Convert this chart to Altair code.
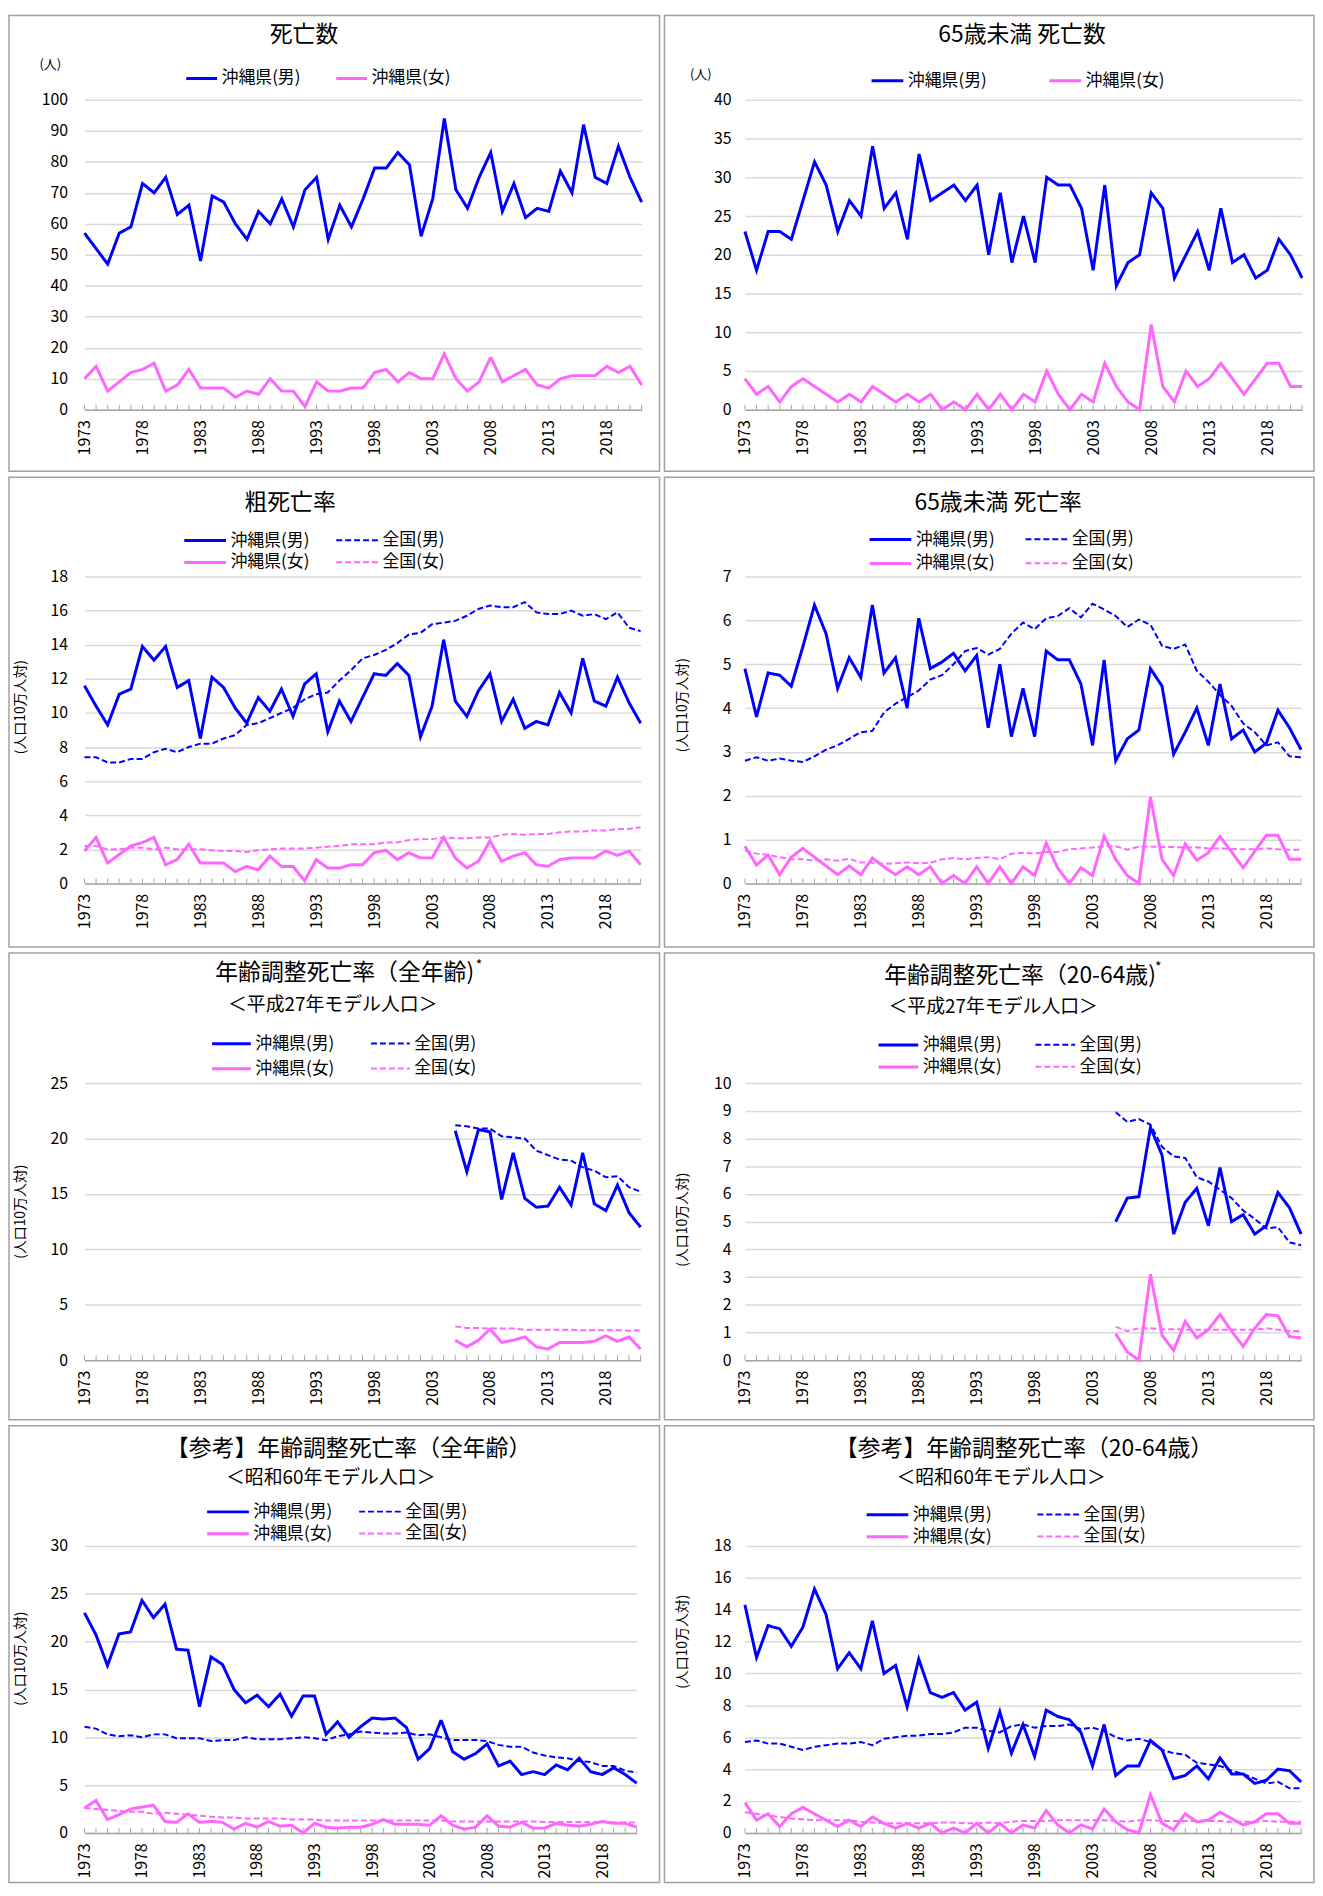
import altair as alt
import pandas as pd

FONT = "Noto Sans CJK JP"
BLUE = "#0000ff"
PINK = "#ff66ff"

years = list(range(1973, 2022))
years_h27 = list(range(2005, 2022))
tick_years = list(range(1973, 2019, 5))

# ---- 死亡数 ----
p1_oki_m = [57, 52, 47, 57, 59, 73, 70, 75, 63, 66,
            48, 69, 67, 60, 55, 64, 60, 68, 59, 71,
            75, 55, 66, 59, 68, 78, 78, 83, 79, 56,
            68, 94, 71, 65, 75, 83, 64, 73, 62, 65,
            64, 77, 70, 92, 75, 73, 85, 75, 67]
p1_oki_f = [10, 14, 6, 9, 12, 13, 15, 6, 8, 13,
            7, 7, 7, 4, 6, 5, 10, 6, 6, 1,
            9, 6, 6, 7, 7, 12, 13, 9, 12, 10,
            10, 18, 10, 6, 9, 17, 9, 11, 13, 8,
            7, 10, 11, 11, 11, 14, 12, 14, 8]

# ---- 65歳未満 死亡数 ----
p2_oki_m = [23, 18, 23, 23, 22, 27, 32, 29, 23, 27,
            25, 34, 26, 28, 22, 33, 27, 28, 29, 27,
            29, 20, 28, 19, 25, 19, 30, 29, 29, 26,
            18, 29, 16, 19, 20, 28, 26, 17, 20, 23,
            18, 26, 19, 20, 17, 18, 22, 20, 17]
p2_oki_f = [4, 2, 3, 1, 3, 4, 3, 2, 1, 2,
            1, 3, 2, 1, 2, 1, 2, 0, 1, 0,
            2, 0, 2, 0, 2, 1, 5, 2, 0, 2,
            1, 6, 3, 1, 0, 11, 3, 1, 5, 3,
            4, 6, 4, 2, 4, 6, 6, 3, 3]

# ---- 粗死亡率 ----
p3_oki_m = [11.6, 10.4, 9.3, 11.1, 11.4, 13.9, 13.1, 13.9, 11.5, 11.9,
            8.5, 12.1, 11.5, 10.3, 9.4, 10.9, 10.1, 11.4, 9.8, 11.7,
            12.3, 8.9, 10.7, 9.5, 10.9, 12.3, 12.2, 12.9, 12.2, 8.6,
            10.4, 14.3, 10.7, 9.8, 11.3, 12.3, 9.5, 10.8, 9.1, 9.5,
            9.3, 11.2, 10.0, 13.2, 10.7, 10.4, 12.1, 10.6, 9.4]
p3_nat_m = [7.4, 7.4, 7.1, 7.1, 7.3, 7.3, 7.7, 7.9, 7.7, 8.0,
            8.2, 8.2, 8.5, 8.7, 9.3, 9.4, 9.7, 10.0, 10.3, 10.8,
            11.1, 11.2, 11.9, 12.5, 13.2, 13.4, 13.7, 14.1, 14.6, 14.7,
            15.2, 15.3, 15.4, 15.7, 16.1, 16.3, 16.2, 16.2, 16.5, 15.9,
            15.8, 15.8, 16.0, 15.7, 15.8, 15.5, 15.9, 15.0, 14.8]
p3_oki_f = [1.9, 2.7, 1.2, 1.7, 2.2, 2.4, 2.7, 1.1, 1.4, 2.3,
            1.2, 1.2, 1.2, 0.7, 1.0, 0.8, 1.6, 1.0, 1.0, 0.15,
            1.4, 0.9, 0.9, 1.1, 1.1, 1.8, 1.95, 1.4, 1.8, 1.5,
            1.5, 2.7, 1.5, 0.9, 1.3, 2.5, 1.3, 1.6, 1.8, 1.1,
            1.0, 1.4, 1.5, 1.5, 1.5, 1.9, 1.65, 1.9, 1.1]
p3_nat_f = [2.2, 2.2, 2.0, 2.0, 2.1, 2.1, 2.0, 2.1, 2.0, 2.0,
            2.0, 1.95, 1.9, 1.9, 1.85, 1.95, 2.0, 2.05, 2.05, 2.05,
            2.1, 2.15, 2.2, 2.3, 2.3, 2.3, 2.4, 2.4, 2.55, 2.6,
            2.6, 2.7, 2.65, 2.65, 2.7, 2.7, 2.85, 2.9, 2.85, 2.9,
            2.9, 3.0, 3.05, 3.05, 3.1, 3.1, 3.2, 3.2, 3.3]

# ---- 65歳未満 死亡率 ----
p4_oki_m = [4.9, 3.8, 4.8, 4.75, 4.5, 5.4, 6.35, 5.7, 4.45, 5.15,
            4.7, 6.35, 4.8, 5.15, 4.0, 6.05, 4.9, 5.05, 5.25, 4.85,
            5.2, 3.55, 5.0, 3.35, 4.45, 3.35, 5.3, 5.1, 5.1, 4.55,
            3.15, 5.1, 2.8, 3.3, 3.5, 4.9, 4.5, 2.95, 3.45, 4.0,
            3.15, 4.55, 3.3, 3.5, 3.0, 3.2, 3.95, 3.55, 3.05]
p4_nat_m = [2.8, 2.88, 2.8, 2.85, 2.8, 2.77, 2.9, 3.05, 3.15, 3.3,
            3.45, 3.48, 3.9, 4.1, 4.25, 4.4, 4.65, 4.75, 5.0, 5.3,
            5.37, 5.22, 5.35, 5.7, 5.95, 5.8, 6.05, 6.1, 6.28, 6.07,
            6.38, 6.25, 6.1, 5.85, 6.02, 5.9, 5.42, 5.35, 5.45, 4.85,
            4.6, 4.3, 4.05, 3.65, 3.45, 3.15, 3.22, 2.9, 2.88]
p4_oki_f = [0.85, 0.42, 0.65, 0.2, 0.6, 0.8, 0.6, 0.4, 0.2, 0.4,
            0.2, 0.58, 0.38, 0.2, 0.38, 0.2, 0.38, 0.0, 0.18, 0.0,
            0.38, 0.0, 0.38, 0.0, 0.38, 0.18, 0.92, 0.35, 0.0, 0.36,
            0.18, 1.08, 0.55, 0.18, 0.0, 1.97, 0.55, 0.18, 0.9, 0.53,
            0.7, 1.07, 0.72, 0.36, 0.73, 1.1, 1.1, 0.55, 0.55]
p4_nat_f = [0.75, 0.68, 0.65, 0.6, 0.55, 0.55, 0.52, 0.55, 0.52, 0.56,
            0.48, 0.47, 0.45, 0.46, 0.48, 0.46, 0.47, 0.55, 0.58, 0.55,
            0.58, 0.6, 0.55, 0.68, 0.7, 0.68, 0.72, 0.72, 0.78, 0.8,
            0.82, 0.85, 0.85, 0.77, 0.84, 0.84, 0.83, 0.83, 0.82, 0.82,
            0.8, 0.8, 0.79, 0.78, 0.78, 0.8, 0.78, 0.77, 0.77]

# ---- 年齢調整死亡率（全年齢）H27 (2005-2021) ----
p5_oki_m = [20.7, 17.0, 20.8, 20.6, 14.5, 18.7, 14.6, 13.8, 13.9, 15.6, 14.0, 18.7, 14.1, 13.5, 15.8, 13.3, 12.0]
p5_nat_m = [21.2, 21.1, 20.9, 20.9, 20.2, 20.1, 20.0, 18.9, 18.5, 18.1, 18.0, 17.4, 17.1, 16.5, 16.6, 15.6, 15.2]
p5_oki_f = [1.8, 1.2, 1.8, 2.8, 1.6, 1.8, 2.1, 1.2, 1.0, 1.6, 1.6, 1.6, 1.7, 2.2, 1.7, 2.1, 1.0]
p5_nat_f = [3.05, 2.9, 2.9, 2.85, 2.85, 2.85, 2.75, 2.75, 2.75, 2.75, 2.75, 2.7, 2.7, 2.7, 2.7, 2.65, 2.7]

# ---- 年齢調整死亡率（20-64歳）H27 (2005-2021) ----
p6_oki_m = [5.0, 5.85, 5.9, 8.4, 7.4, 4.55, 5.7, 6.2, 4.85, 6.95, 5.0, 5.25, 4.55, 4.85, 6.05, 5.5, 4.55]
p6_nat_m = [8.95, 8.6, 8.7, 8.5, 7.7, 7.35, 7.3, 6.6, 6.45, 6.15, 5.85, 5.4, 5.1, 4.75, 4.8, 4.25, 4.15]
p6_oki_f = [0.95, 0.3, 0.0, 3.1, 0.9, 0.35, 1.4, 0.8, 1.1, 1.65, 1.05, 0.5, 1.15, 1.65, 1.6, 0.85, 0.8]
p6_nat_f = [1.2, 1.05, 1.15, 1.15, 1.12, 1.12, 1.1, 1.1, 1.1, 1.1, 1.1, 1.1, 1.1, 1.15, 1.1, 1.05, 1.05]

# ---- 【参考】年齢調整死亡率（全年齢）S60 ----
p7_oki_m = [23.0, 20.7, 17.5, 20.8, 21.0, 24.3, 22.5, 23.9, 19.2, 19.1,
            13.2, 18.4, 17.6, 15.0, 13.6, 14.4, 13.2, 14.5, 12.2, 14.3,
            14.3, 10.3, 11.6, 10.0, 11.1, 12.0, 11.9, 12.0, 11.0, 7.7,
            8.8, 11.8, 8.5, 7.7, 8.3, 9.3, 7.0, 7.5, 6.1, 6.4,
            6.1, 7.1, 6.6, 7.8, 6.4, 6.1, 6.8, 6.1, 5.2]
p7_nat_m = [11.1, 10.9, 10.3, 10.1, 10.2, 10.0, 10.3, 10.3, 9.9, 9.9,
            9.9, 9.6, 9.7, 9.7, 10.0, 9.8, 9.8, 9.8, 9.9, 10.0,
            9.9, 9.7, 10.1, 10.3, 10.6, 10.5, 10.4, 10.4, 10.5, 10.2,
            10.3, 10.0, 9.7, 9.7, 9.7, 9.6, 9.2, 9.0, 9.0, 8.4,
            8.1, 7.9, 7.8, 7.5, 7.4, 7.0, 7.0, 6.5, 6.3]
p7_oki_f = [2.6, 3.4, 1.4, 1.9, 2.5, 2.7, 2.9, 1.2, 1.1, 2.0,
            1.1, 1.2, 1.1, 0.4, 1.0, 0.6, 1.2, 0.7, 0.8, 0.0,
            1.0, 0.6, 0.5, 0.6, 0.6, 0.9, 1.4, 0.9, 0.9, 0.9,
            0.8, 1.8, 0.8, 0.4, 0.6, 1.8, 0.7, 0.6, 1.1, 0.5,
            0.5, 1.0, 0.8, 0.7, 0.9, 1.2, 1.0, 1.0, 0.6]
p7_nat_f = [2.6, 2.5, 2.4, 2.3, 2.2, 2.2, 2.0, 2.1, 2.0, 1.9,
            1.8, 1.7, 1.6, 1.6, 1.5, 1.5, 1.5, 1.5, 1.4, 1.4,
            1.4, 1.3, 1.3, 1.3, 1.3, 1.3, 1.3, 1.3, 1.3, 1.3,
            1.3, 1.3, 1.2, 1.2, 1.2, 1.2, 1.2, 1.2, 1.2, 1.2,
            1.15, 1.15, 1.15, 1.15, 1.15, 1.15, 1.1, 1.1, 1.1]

# ---- 【参考】年齢調整死亡率（20-64歳）S60 ----
p8_oki_m = [14.3, 11.0, 13.0, 12.8, 11.7, 12.9, 15.3, 13.7, 10.3, 11.3,
            10.3, 13.3, 10.0, 10.5, 7.9, 10.9, 8.8, 8.5, 8.8, 7.7,
            8.2, 5.3, 7.6, 5.0, 6.8, 4.8, 7.7, 7.3, 7.1, 6.3,
            4.2, 6.8, 3.6, 4.2, 4.2, 5.8, 5.2, 3.4, 3.6, 4.2,
            3.4, 4.7, 3.7, 3.7, 3.1, 3.3, 4.0, 3.9, 3.2]
p8_nat_m = [5.7, 5.8, 5.6, 5.6, 5.4, 5.2, 5.4, 5.5, 5.6, 5.6,
            5.7, 5.5, 5.9, 6.0, 6.1, 6.1, 6.2, 6.2, 6.3, 6.6,
            6.6, 6.4, 6.3, 6.7, 6.8, 6.6, 6.7, 6.7, 6.8, 6.5,
            6.6, 6.4, 6.0, 5.8, 5.9, 5.7, 5.2, 5.0, 4.9, 4.4,
            4.3, 4.2, 3.9, 3.7, 3.4, 3.1, 3.2, 2.8, 2.8]
p8_oki_f = [1.9, 0.8, 1.2, 0.4, 1.2, 1.6, 1.2, 0.8, 0.4, 0.8,
            0.4, 1.0, 0.6, 0.3, 0.6, 0.3, 0.6, 0.0, 0.3, 0.0,
            0.6, 0.0, 0.6, 0.0, 0.5, 0.3, 1.4, 0.5, 0.0, 0.5,
            0.25, 1.5, 0.7, 0.2, 0.0, 2.4, 0.6, 0.2, 1.2, 0.7,
            0.8, 1.3, 0.9, 0.5, 0.7, 1.2, 1.2, 0.6, 0.6]
p8_nat_f = [1.3, 1.2, 1.1, 1.0, 0.9, 0.85, 0.8, 0.8, 0.8, 0.8,
            0.7, 0.65, 0.6, 0.6, 0.6, 0.6, 0.6, 0.65, 0.65, 0.6,
            0.6, 0.65, 0.6, 0.7, 0.75, 0.75, 0.75, 0.8, 0.8, 0.8,
            0.8, 0.8, 0.75, 0.7, 0.8, 0.8, 0.75, 0.75, 0.75, 0.75,
            0.75, 0.75, 0.7, 0.7, 0.7, 0.75, 0.7, 0.7, 0.7]

S_OM, S_NM, S_OF, S_NF = "沖縄県(男)", "全国(男)", "沖縄県(女)", "全国(女)"
STYLE = {
    S_OM: (BLUE, [1, 0], 3),
    S_NM: (BLUE, [6, 3], 2),
    S_OF: (PINK, [1, 0], 3),
    S_NF: (PINK, [6, 3], 2),
}


def long_df(yrs, series):
    rows = []
    for name, vals in series:
        for y, v in zip(yrs, vals):
            rows.append({"year": y, "series": name, "value": v})
    return pd.DataFrame(rows)


def panel(c):
    px, py, W, H = c["plot"]
    rx1, ry1, rx2, ry2 = c["rect"]
    L = c["symlen"]

    border = alt.Chart(pd.DataFrame({"k": [0]})).mark_rect(
        fillOpacity=0, stroke="#a0a0a0", strokeWidth=1.5
    ).encode(
        x=alt.value(rx1 - px), x2=alt.value(rx2 - px),
        y=alt.value(ry1 - py), y2=alt.value(ry2 - py),
    )

    x_enc = alt.X(
        "year:Q",
        scale=alt.Scale(domain=[1973, 2021], nice=False, zero=False),
        axis=alt.Axis(
            values=tick_years, format="d", labelAngle=270, labelFontSize=16,
            labelFont=FONT, labelColor="black", labelPadding=10, labelFlush=False,
            labelOverlap=False, ticks=False, grid=False, domainColor="#a6a6a6",
            domainWidth=1.5, title=None,
        ),
    )

    ticks = alt.Chart(pd.DataFrame({"year": years})).mark_rule(
        color="#a6a6a6", strokeWidth=1
    ).encode(x=x_enc, y=alt.value(H), y2=alt.value(H - 5))

    tx, ty = c["ytpos"]
    y_enc = alt.Y(
        "value:Q", scale=alt.Scale(domain=[0, c["ymax"]], nice=False, zero=True),
        axis=alt.Axis(
            values=c["yticks"], labelFontSize=16, labelFont=FONT, labelColor="black",
            labelPadding=c["lpad"], ticks=False, domain=False, grid=True,
            gridColor="#d9d9d9", gridWidth=1.5, title=c["ytitle"],
            titleFont=FONT, titleFontSize=c["ytsize"], titleFontWeight="normal",
            titleColor="black", titleAngle=c["ytangle"], titleX=tx - px, titleY=ty - py,
            titleAlign="center", titleBaseline="middle",
        ),
    )

    lx = c["legx"]

    def line_layer(series, center_y):
        dom = [name for name, _ in series]
        leg = alt.Legend(
            orient="none", legendX=lx - px, legendY=center_y - L / 2 - py,
            columns=2, direction="horizontal", title=None,
            labelFontSize=17, labelFont=FONT, labelColor="black", symbolType="stroke",
            symbolSize=L * L, symbolStrokeWidth=3, columnPadding=c["colpad"],
            labelOffset=3, padding=0,
        )
        return alt.Chart(long_df(c["years"], series)).mark_line(strokeCap="butt").encode(
            x=x_enc,
            y=y_enc,
            color=alt.Color("series:N", scale=alt.Scale(domain=dom, range=[STYLE[s][0] for s in dom]), legend=leg),
            strokeDash=alt.StrokeDash("series:N", scale=alt.Scale(domain=dom, range=[STYLE[s][1] for s in dom]), legend=leg),
            strokeWidth=alt.StrokeWidth("series:N", scale=alt.Scale(domain=dom, range=[STYLE[s][2] for s in dom]), legend=None),
        )

    rows_y = c["legy"]
    if len(c["series"]) == 2:
        line_layers = [line_layer(c["series"], rows_y[0])]
    else:
        line_layers = [line_layer(c["series"][:2], rows_y[0]),
                       line_layer(c["series"][2:], rows_y[1])]

    layers = [border, ticks] + line_layers

    cx, cy = c["tc"]
    layers.append(
        alt.Chart(pd.DataFrame({"t": [c["title"]]})).mark_text(
            font=FONT, fontSize=23, color="black", align="center", baseline="middle"
        ).encode(x=alt.value(cx - px), y=alt.value(cy - py), text="t:N")
    )
    if c.get("sub"):
        sx, sy = c["sc"]
        layers.append(
            alt.Chart(pd.DataFrame({"t": [c["sub"]]})).mark_text(
                font=FONT, fontSize=19, color="black", align="center", baseline="middle"
            ).encode(x=alt.value(sx - px), y=alt.value(sy - py), text="t:N")
        )
    if c.get("star"):
        stx, sty = c["star"]
        layers.append(
            alt.Chart(pd.DataFrame({"t": ["*"]})).mark_text(
                font=FONT, fontSize=14, color="black", align="left", baseline="middle"
            ).encode(x=alt.value(stx - px), y=alt.value(sty - py), text="t:N")
        )

    return (
        alt.layer(*layers).properties(width=W, height=H)
        .resolve_scale(color="independent", strokeDash="independent", strokeWidth="independent")
        .resolve_legend(color="independent", strokeDash="independent", strokeWidth="independent")
    )


four = lambda om, nm, of, nf: [(S_OM, om), (S_NM, nm), (S_OF, of), (S_NF, nf)]
UNIT = "(人口10万人対)"

# row-wise common plot tops (panels in one row share their origin)
R1, R2, R3, R4 = 98, 576, 1084, 1548

cfgs = [
    dict(title="死亡数", tc=(305, 33), plot=(84, R1, 561, 312), rect=(8, 13, 663, 472),
         ymax=100, yticks=list(range(0, 101, 10)), ytitle="(人)", ytsize=13, ytangle=0, lpad=17,
         ytpos=(49, 62), legx=185, legy=(75,), symlen=31, colpad=29,
         years=years, series=[(S_OM, p1_oki_m), (S_OF, p1_oki_f)]),
    dict(title="65歳未満  死亡数", tc=(1026, 33), plot=(747, R1, 561, 312), rect=(666, 13, 1320, 472),
         ymax=40, yticks=list(range(0, 41, 5)), ytitle="(人)", ytsize=13, ytangle=0, lpad=14,
         ytpos=(702, 73), legx=873, legy=(77,), symlen=32, colpad=56,
         years=years, series=[(S_OM, p2_oki_m), (S_OF, p2_oki_f)]),
    dict(title="粗死亡率", tc=(291, 502), plot=(84, R2, 560, 309), rect=(8, 476, 663, 949),
         ymax=18, yticks=list(range(0, 19, 2)), ytitle=UNIT, ytsize=14, ytangle=270, lpad=17,
         ytpos=(20, 707), legx=183, legy=(538, 560), symlen=42, colpad=22,
         years=years, series=four(p3_oki_m, p3_nat_m, p3_oki_f, p3_nat_f)),
    dict(title="65歳未満  死亡率", tc=(1002, 502), plot=(747, R2, 560, 309), rect=(666, 476, 1320, 949),
         ymax=7, yticks=list(range(0, 8, 1)), ytitle=UNIT, ytsize=14, ytangle=270, lpad=14,
         ytpos=(684, 705), legx=871, legy=(537, 561), symlen=42, colpad=26,
         years=years, series=four(p4_oki_m, p4_nat_m, p4_oki_f, p4_nat_f)),
    dict(title="年齢調整死亡率（全年齢)", tc=(346, 973), sub="＜平成27年モデル人口＞", sc=(334, 1005),
         star=(478, 966), plot=(84, R3, 560, 279), rect=(8, 953, 663, 1423),
         ymax=25, yticks=list(range(0, 26, 5)), ytitle=UNIT, ytsize=14, ytangle=270, lpad=17,
         ytpos=(20, 1213), legx=211, legy=(1043, 1068), symlen=39, colpad=32,
         years=years_h27, series=four(p5_oki_m, p5_nat_m, p5_oki_f, p5_nat_f)),
    dict(title="年齢調整死亡率（20-64歳)", tc=(1024, 976), sub="＜平成27年モデル人口＞", sc=(997, 1007),
         star=(1160, 968), plot=(747, R3, 560, 279), rect=(666, 953, 1320, 1423),
         ymax=10, yticks=list(range(0, 11, 1)), ytitle=UNIT, ytsize=14, ytangle=270, lpad=14,
         ytpos=(684, 1221), legx=880, legy=(1044, 1066), symlen=40, colpad=29,
         years=years_h27, series=four(p6_oki_m, p6_nat_m, p6_oki_f, p6_nat_f)),
    dict(title="【参考】年齢調整死亡率（全年齢）", tc=(350, 1450), sub="＜昭和60年モデル人口＞", sc=(332, 1480),
         plot=(84, R4, 556, 289), rect=(8, 1427, 663, 1887),
         ymax=30, yticks=list(range(0, 31, 5)), ytitle=UNIT, ytsize=14, ytangle=270, lpad=17,
         ytpos=(20, 1661), legx=206, legy=(1512, 1534), symlen=42, colpad=22,
         years=years, series=four(p7_oki_m, p7_nat_m, p7_oki_f, p7_nat_f)),
    dict(title="【参考】年齢調整死亡率（20-64歳）", tc=(1028, 1450), sub="＜昭和60年モデル人口＞", sc=(1005, 1480),
         plot=(747, R4, 560, 289), rect=(666, 1427, 1320, 1887),
         ymax=18, yticks=list(range(0, 19, 2)), ytitle=UNIT, ytsize=14, ytangle=270, lpad=14,
         ytpos=(684, 1644), legx=868, legy=(1515, 1537), symlen=42, colpad=41,
         years=years, series=four(p8_oki_m, p8_nat_m, p8_oki_f, p8_nat_f)),
]

panels = [panel(c) for c in cfgs]

IND = dict(color="independent", strokeDash="independent", strokeWidth="independent",
           x="independent", y="independent")
LEG = dict(color="independent", strokeDash="independent", strokeWidth="independent")

rows = []
for i in range(0, 8, 2):
    rows.append(
        alt.hconcat(panels[i], panels[i + 1], spacing=3)
        .resolve_scale(**IND).resolve_legend(**LEG).resolve_axis(x="independent", y="independent")
    )

chart = (
    alt.vconcat(*rows, spacing=4)
    .resolve_scale(**IND).resolve_legend(**LEG).resolve_axis(x="independent", y="independent")
    .properties(padding=0, background="white")
    .configure_view(stroke=None)
    .configure_text(font=FONT)
)

chart.save("out.html", embed_options={"renderer": "svg", "actions": False})
